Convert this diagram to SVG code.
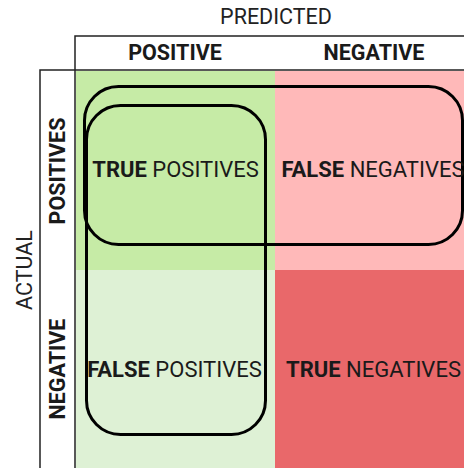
<svg xmlns="http://www.w3.org/2000/svg" width="464" height="468" viewBox="0 0 464 468">
<style>
text{font-family:Roboto,"Liberation Sans",sans-serif;fill:#1a1a1a}
.hd{font-size:21.5px;font-weight:bold;text-anchor:middle}
.lab{font-size:21.5px;text-anchor:middle;fill:#222}
.cell{font-size:22px;text-anchor:middle}
.b{font-weight:bold}
.grid{stroke:#222;stroke-width:1.5;fill:none}
.ring{stroke:#000;stroke-width:3;fill:none}
</style>
<rect x="76" y="71" width="199" height="199" fill="#c6eba6"/>
<rect x="275" y="71" width="189" height="199" fill="#ffb9b9"/>
<rect x="76" y="270" width="199" height="198" fill="#def1d5"/>
<rect x="275" y="270" width="189" height="198" fill="#e9686a"/>
<g id="frame">
<path class="grid" d="M75,468 V36 H464 M40,468 V70 H464"/>
</g>
<text class="lab" x="276" y="24">PREDICTED</text>
<g id="col-positive"><text class="hd" x="175" y="60">POSITIVE</text></g>
<g id="col-negative"><text class="hd" x="374" y="60">NEGATIVE</text></g>
<text class="lab" transform="translate(32,270) rotate(-90)">ACTUAL</text>
<g id="row-positives"><text class="hd" transform="translate(65,171) rotate(-90)">POSITIVES</text></g>
<g id="row-negative"><text class="hd" transform="translate(65,369) rotate(-90)">NEGATIVE</text></g>
<g id="connectors">
<rect class="ring" x="84.5" y="86.5" width="378" height="158" rx="34"/>
<rect class="ring" x="86.5" y="105.5" width="179" height="329" rx="34"/>
</g>
<g id="tp"><text class="cell" x="175.5" y="177"><tspan class="b">TRUE</tspan> POSITIVES</text></g>
<g id="fn"><text class="cell" x="373" y="177"><tspan class="b">FALSE</tspan> NEGATIVES</text></g>
<g id="fp"><text class="cell" x="174.5" y="377"><tspan class="b">FALSE</tspan> POSITIVES</text></g>
<g id="tn"><text class="cell" x="373.5" y="377"><tspan class="b">TRUE</tspan> NEGATIVES</text></g>
</svg>
